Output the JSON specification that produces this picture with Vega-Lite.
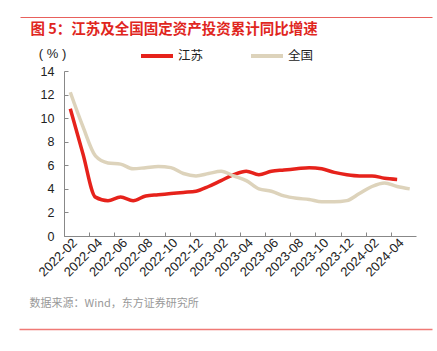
{
  "$schema": "https://vega.github.io/schema/vega-lite/v6.json",
  "width": 352,
  "height": 165,
  "autosize": {"type": "none"},
  "padding": {"left": 64, "top": 71, "right": 21, "bottom": 115},
  "background": "white",
  "config": {"font": "Liberation Sans, Noto Sans CJK SC", "view": {"stroke": null}},
  "layer": [
    {
      "data": {"values": [
        {"month": "2022-02", "series": "江苏", "value": 10.8},
        {"month": "2022-03", "series": "江苏", "value": 7.0},
        {"month": "2022-04", "series": "江苏", "value": 3.3},
        {"month": "2022-05", "series": "江苏", "value": 3.0},
        {"month": "2022-06", "series": "江苏", "value": 3.3},
        {"month": "2022-07", "series": "江苏", "value": 3.0},
        {"month": "2022-08", "series": "江苏", "value": 3.4},
        {"month": "2022-09", "series": "江苏", "value": 3.5},
        {"month": "2022-10", "series": "江苏", "value": 3.6},
        {"month": "2022-11", "series": "江苏", "value": 3.7},
        {"month": "2022-12", "series": "江苏", "value": 3.8},
        {"month": "2023-01", "series": "江苏", "value": 4.2},
        {"month": "2023-02", "series": "江苏", "value": 4.7},
        {"month": "2023-03", "series": "江苏", "value": 5.2},
        {"month": "2023-04", "series": "江苏", "value": 5.5},
        {"month": "2023-05", "series": "江苏", "value": 5.2},
        {"month": "2023-06", "series": "江苏", "value": 5.5},
        {"month": "2023-07", "series": "江苏", "value": 5.6},
        {"month": "2023-08", "series": "江苏", "value": 5.7},
        {"month": "2023-09", "series": "江苏", "value": 5.8},
        {"month": "2023-10", "series": "江苏", "value": 5.7},
        {"month": "2023-11", "series": "江苏", "value": 5.4},
        {"month": "2023-12", "series": "江苏", "value": 5.2},
        {"month": "2024-01", "series": "江苏", "value": 5.1},
        {"month": "2024-02", "series": "江苏", "value": 5.1},
        {"month": "2024-03", "series": "江苏", "value": 4.9},
        {"month": "2024-04", "series": "江苏", "value": 4.8},
        {"month": "2022-02", "series": "全国", "value": 12.2},
        {"month": "2022-03", "series": "全国", "value": 9.3},
        {"month": "2022-04", "series": "全国", "value": 6.8},
        {"month": "2022-05", "series": "全国", "value": 6.2},
        {"month": "2022-06", "series": "全国", "value": 6.1},
        {"month": "2022-07", "series": "全国", "value": 5.7},
        {"month": "2022-08", "series": "全国", "value": 5.8},
        {"month": "2022-09", "series": "全国", "value": 5.9},
        {"month": "2022-10", "series": "全国", "value": 5.8},
        {"month": "2022-11", "series": "全国", "value": 5.3},
        {"month": "2022-12", "series": "全国", "value": 5.1},
        {"month": "2023-01", "series": "全国", "value": 5.3},
        {"month": "2023-02", "series": "全国", "value": 5.5},
        {"month": "2023-03", "series": "全国", "value": 5.1},
        {"month": "2023-04", "series": "全国", "value": 4.7},
        {"month": "2023-05", "series": "全国", "value": 4.0},
        {"month": "2023-06", "series": "全国", "value": 3.8},
        {"month": "2023-07", "series": "全国", "value": 3.4},
        {"month": "2023-08", "series": "全国", "value": 3.2},
        {"month": "2023-09", "series": "全国", "value": 3.1},
        {"month": "2023-10", "series": "全国", "value": 2.9},
        {"month": "2023-11", "series": "全国", "value": 2.9},
        {"month": "2023-12", "series": "全国", "value": 3.0},
        {"month": "2024-01", "series": "全国", "value": 3.6},
        {"month": "2024-02", "series": "全国", "value": 4.2},
        {"month": "2024-03", "series": "全国", "value": 4.5},
        {"month": "2024-04", "series": "全国", "value": 4.2},
        {"month": "2024-05", "series": "全国", "value": 4.0}
      ]},
      "mark": {"type": "line", "strokeWidth": 3.5, "interpolate": "monotone"},
      "encoding": {
        "x": {
          "field": "month",
          "type": "ordinal",
          "scale": {"type": "point", "padding": 0.5},
          "axis": {
            "values": ["2022-02","2022-04","2022-06","2022-08","2022-10","2022-12","2023-02","2023-04","2023-06","2023-08","2023-10","2023-12","2024-02","2024-04"],
            "title": null,
            "grid": false,
            "tickOffset": -6.286,
            "labelOffset": 6.286,
            "labelAngle": -45,
            "labelFontSize": 13,
            "labelColor": "#222222",
            "labelPadding": 4,
            "tickColor": "#888888",
            "domainColor": "#888888",
            "tickSize": -4
          }
        },
        "y": {
          "field": "value",
          "type": "quantitative",
          "scale": {"domain": [0, 14], "nice": false},
          "axis": {
            "values": [0, 2, 4, 6, 8, 10, 12, 14],
            "grid": false,
            "labelFontSize": 12.5,
            "labelColor": "#222222",
            "labelPadding": 14,
            "tickColor": "#888888",
            "domainColor": "#888888",
            "tickSize": -4,
            "title": "( % )",
            "titleAngle": 0,
            "titleX": -12,
            "titleY": -18,
            "titleAlign": "center",
            "titleBaseline": "middle",
            "titleFontWeight": "normal",
            "titleFontSize": 13,
            "titleColor": "#222222"
          }
        },
        "color": {
          "field": "series",
          "type": "nominal",
          "scale": {"domain": ["江苏", "全国"], "range": ["#e6221b", "#ddd3bb"]},
          "legend": {
            "orient": "none",
            "legendX": 75,
            "legendY": -33,
            "direction": "horizontal",
            "title": null,
            "symbolType": "stroke",
            "symbolStrokeWidth": 4,
            "symbolSize": 1024,
            "labelFontSize": 12.5,
            "labelOffset": 3,
            "columnPadding": 39,
            "labelColor": "#222222",
            "labelFont": "Noto Sans CJK SC"
          }
        }
      }
    },
    {
      "data": {"values": [{"d": 0}, {"d": 1}]},
      "mark": {"type": "point", "opacity": 0},
      "encoding": {
        "x": {
          "field": "d",
          "type": "quantitative",
          "scale": {"domain": [0, 1], "range": [-44, 368], "nice": false, "zero": false},
          "axis": {
            "orient": "top",
            "offset": 54,
            "domainColor": "#e8605c",
            "domainWidth": 1.2,
            "ticks": false,
            "labels": false,
            "grid": false,
            "title": "图 5：江苏及全国固定资产投资累计同比增速",
            "titleX": -34,
            "titleY": 12,
            "titleAlign": "left",
            "titleAnchor": null,
            "titleBaseline": "middle",
            "titleColor": "#e0261e",
            "titleFontSize": 14.5,
            "titleFontWeight": "bold",
            "titleFont": "Noto Sans CJK SC"
          }
        }
      }
    },
    {
      "data": {"values": [{"d": 0}, {"d": 1}]},
      "mark": {"type": "point", "opacity": 0},
      "encoding": {
        "x": {
          "field": "d",
          "type": "quantitative",
          "scale": {"domain": [0, 1], "range": [-45, 368], "nice": false, "zero": false},
          "axis": {
            "orient": "bottom",
            "offset": 93,
            "domainColor": "#f07a76",
            "domainWidth": 1.5,
            "ticks": false,
            "labels": false,
            "grid": false,
            "title": "数据来源：Wind，东方证券研究所",
            "titleX": -35,
            "titleY": -26,
            "titleAlign": "left",
            "titleAnchor": null,
            "titleBaseline": "middle",
            "titleColor": "#999999",
            "titleFontSize": 11,
            "titleFontWeight": "normal",
            "titleFont": "Noto Sans CJK SC"
          }
        }
      }
    }
  ],
  "resolve": {"scale": {"x": "independent"}, "axis": {"x": "independent"}}
}
